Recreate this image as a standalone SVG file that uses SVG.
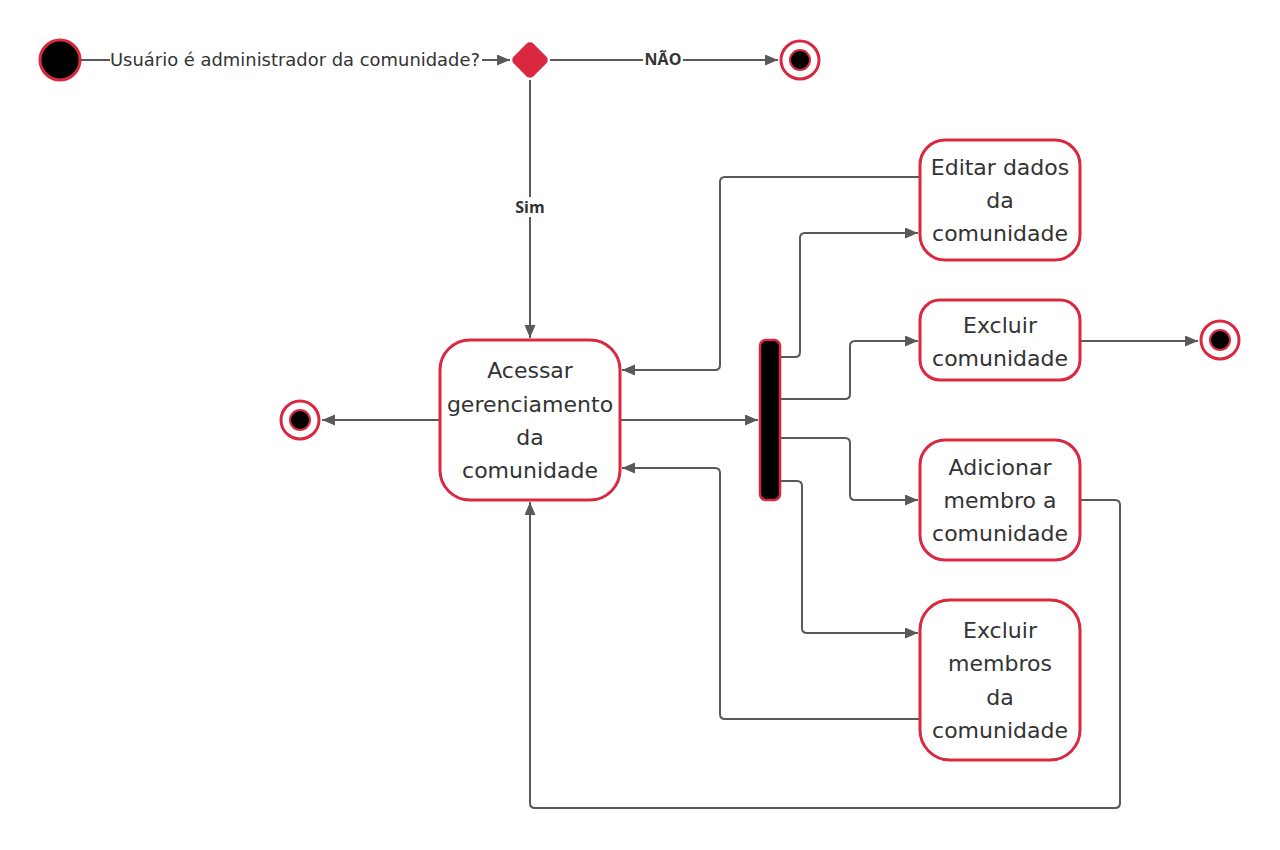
<svg xmlns="http://www.w3.org/2000/svg" width="1280" height="850" viewBox="0 0 1280 850">
<defs>
<marker id="arr" markerUnits="userSpaceOnUse" markerWidth="14" markerHeight="12" refX="13" refY="5.5" orient="auto">
<path d="M0,0 L13,5.5 L0,11 z" fill="#595959"/>
</marker>
<style>
.box{fill:#fff;stroke:#d9283f;stroke-width:3}
.t{font-family:"DejaVu Sans","Noto Sans",sans-serif;font-size:22px;fill:#333;text-anchor:middle;dominant-baseline:central}
.lbl{font-family:"DejaVu Sans","Noto Sans",sans-serif;font-size:17px;fill:#333;dominant-baseline:central}
.b{font-family:"Open Sans","Noto Sans",sans-serif;font-size:16px;font-weight:bold;fill:#333;text-anchor:middle;dominant-baseline:central}
.c{fill:none;stroke:#595959;stroke-width:2}
.ca{fill:none;stroke:#595959;stroke-width:2;marker-end:url(#arr)}
.fo{fill:#fff;stroke:#d9283f;stroke-width:3}
.fi{fill:#000;stroke:#d9283f;stroke-width:2}
</style>
</defs>
<rect width="1280" height="850" fill="#fff"/>
<g id="connectors">
<path class="c" d="M80,60 H110"/>
<path class="ca" d="M482,60 H510"/>
<path class="c" d="M550,60 H643"/>
<path class="ca" d="M683,60 H778"/>
<path class="c" d="M530,80 V197"/>
<path class="ca" d="M530,217 V338"/>
<path class="ca" d="M440,420 H322"/>
<path class="ca" d="M620,420 H758"/>
<path class="ca" d="M780,357 H795 Q800,357 800,352 V238 Q800,233 805,233 H918"/>
<path class="ca" d="M780,399 H845 Q850,399 850,394 V346 Q850,341 855,341 H918"/>
<path class="ca" d="M780,438 H845 Q850,438 850,443 V495 Q850,500 855,500 H918"/>
<path class="ca" d="M780,481 H797 Q802,481 802,486 V628 Q802,633 807,633 H918"/>
<path class="ca" d="M920,177 H725 Q720,177 720,182 V365 Q720,370 715,370 H622"/>
<path class="ca" d="M920,719 H725 Q720,719 720,714 V473 Q720,468 715,468 H622"/>
<path class="ca" d="M1080,341 H1198"/>
<path class="ca" d="M1080,500 H1115 Q1120,500 1120,505 V803 Q1120,808 1115,808 H535 Q530,808 530,803 V502"/>
</g>
<g id="labels">
<text class="lbl" x="110" y="60" textLength="370" lengthAdjust="spacingAndGlyphs">Usuário é administrador da comunidade?</text>
<text class="b" x="663" y="59">NÃO</text>
<text class="b" x="530" y="207">Sim</text>
</g>
<g id="start"><circle cx="60" cy="60" r="20" fill="#000" stroke="#d9283f" stroke-width="3"/></g>
<g id="decision"><rect x="516" y="46" width="28" height="28" rx="5" fill="#d9283f" transform="rotate(45 530 60)"/></g>
<g id="end-top"><circle class="fo" cx="800" cy="60" r="19"/><circle class="fi" cx="800" cy="60" r="10"/></g>
<g id="end-left"><circle class="fo" cx="300" cy="420" r="19"/><circle class="fi" cx="300" cy="420" r="10"/></g>
<g id="end-right"><circle class="fo" cx="1220" cy="340" r="19"/><circle class="fi" cx="1220" cy="340" r="10"/></g>
<g id="acessar">
<rect class="box" x="440" y="340" width="180" height="160" rx="30"/>
<text class="t" x="530" y="370">Acessar</text>
<text class="t" x="530" y="404">gerenciamento</text>
<text class="t" x="530" y="437">da</text>
<text class="t" x="530" y="470">comunidade</text>
</g>
<g id="fork"><rect x="760" y="340" width="20" height="160" rx="6" fill="#000" stroke="#d9283f" stroke-width="2.5"/></g>
<g id="editar">
<rect class="box" x="920" y="140" width="160" height="120" rx="25"/>
<text class="t" x="1000" y="167">Editar dados</text>
<text class="t" x="1000" y="200">da</text>
<text class="t" x="1000" y="233">comunidade</text>
</g>
<g id="excluir-com">
<rect class="box" x="920" y="300" width="160" height="80" rx="20"/>
<text class="t" x="1000" y="325">Excluir</text>
<text class="t" x="1000" y="358">comunidade</text>
</g>
<g id="adicionar">
<rect class="box" x="920" y="440" width="160" height="120" rx="25"/>
<text class="t" x="1000" y="467">Adicionar</text>
<text class="t" x="1000" y="500">membro a</text>
<text class="t" x="1000" y="533">comunidade</text>
</g>
<g id="excluir-mem">
<rect class="box" x="920" y="600" width="160" height="160" rx="30"/>
<text class="t" x="1000" y="630">Excluir</text>
<text class="t" x="1000" y="663">membros</text>
<text class="t" x="1000" y="697">da</text>
<text class="t" x="1000" y="730">comunidade</text>
</g>
</svg>
